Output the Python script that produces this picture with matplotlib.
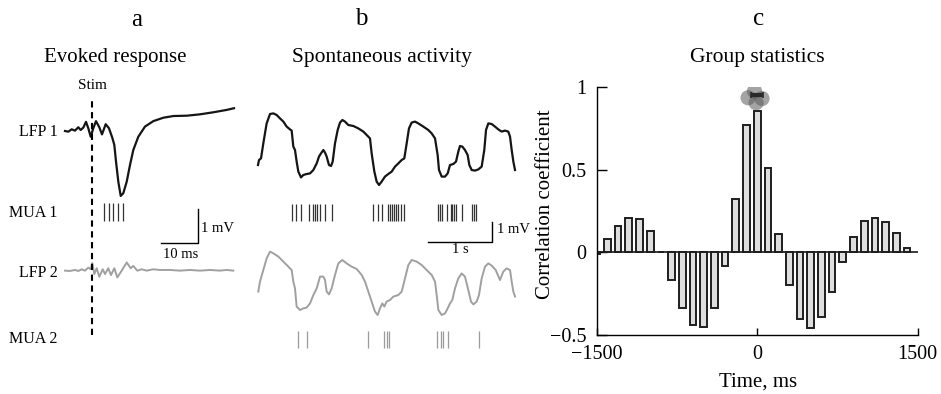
import numpy as np
import matplotlib
matplotlib.use("Agg")
import matplotlib.pyplot as plt

plt.rcParams['font.family'] = ['Liberation Serif', 'DejaVu Serif']

# ---------------- data ----------------
# Panel a: evoked response (time in ms relative to stimulus, voltage in mV)
a_lfp1_t = [-7.38, -6.49, -5.57, -4.68, -3.78, -3.14, -2.43, -1.70, -1.08, -0.43,
            0.27, 1.00, 1.89, 2.62, 3.62, 4.51, 5.41, 5.95, 6.41, 7.03,
            7.68, 8.38, 9.30, 10.19, 11.08, 12.43, 14.24, 16.49, 19.19, 21.89,
            25.51, 29.11, 32.70, 36.32, 38.30]
a_lfp1_v = [0.00, -0.02, 0.05, 0.01, 0.11, 0.03, 0.10, 0.27, 0.08, -0.17,
            0.08, 0.29, 0.11, -0.10, 0.20, 0.08, -0.20, -0.41, -0.90, -1.49,
            -1.91, -1.83, -1.49, -1.00, -0.56, -0.17, 0.13, 0.29, 0.39, 0.44,
            0.45, 0.49, 0.55, 0.62, 0.67]
a_lfp2_t = [-7.38, -6.03, -4.68, -3.78, -2.86, -1.97, -1.08, -0.43, 0.00, 0.54,
            1.19, 1.89, 2.81, 3.43, 4.32, 5.05, 5.95, 6.76, 7.95, 9.30,
            10.38, 11.08, 12.16, 13.35, 14.70, 16.49, 18.30, 21.00, 23.70, 26.41,
            29.11, 31.81, 34.51, 36.32, 38.11]
a_lfp2_v = [-0.01, -0.02, 0.01, -0.02, 0.03, -0.01, 0.08, 0.03, 0.21, -0.11,
            0.06, -0.19, 0.03, -0.11, 0.06, -0.14, 0.06, -0.21, -0.01, 0.23,
            0.06, 0.13, -0.01, 0.03, -0.01, 0.03, 0.01, 0.01, -0.01, 0.01,
            -0.01, 0.01, -0.01, 0.01, -0.01]
a_mua1_t = [3.1, 4.45, 5.7, 6.9, 8.3]

# Panel b: spontaneous activity (time in s, voltage in mV)
b_lfp1_t = [0.000, 0.016, 0.047, 0.083, 0.135, 0.188, 0.240, 0.292, 0.344, 0.396,
            0.448, 0.500, 0.526, 0.552, 0.578, 0.604, 0.630, 0.672, 0.708, 0.760,
            0.813, 0.865, 0.917, 0.953, 0.984, 1.021, 1.047, 1.073, 1.109, 1.141,
            1.167, 1.203, 1.245, 1.281, 1.318, 1.359, 1.411, 1.490, 1.568, 1.646,
            1.698, 1.750, 1.776, 1.818, 1.854, 1.891, 1.932, 1.984, 2.036, 2.089,
            2.141, 2.193, 2.245, 2.286, 2.323, 2.359, 2.401, 2.453, 2.505, 2.583,
            2.661, 2.714, 2.766, 2.807, 2.828, 2.870, 2.922, 2.964, 3.000, 3.052,
            3.094, 3.130, 3.156, 3.193, 3.234, 3.276, 3.302, 3.339, 3.391, 3.443,
            3.495, 3.536, 3.563, 3.599, 3.651, 3.703, 3.755, 3.807, 3.859, 3.911,
            3.938, 3.964, 3.990, 4.016]
b_lfp1_v = [-0.25, 0.00, 0.08, 0.83, 1.83, 2.30, 2.33, 2.25, 2.08, 1.92,
            1.67, 1.53, 1.47, 0.67, 0.50, -0.08, -0.58, -0.87, -0.75, -0.70,
            -0.67, -0.50, -0.17, 0.17, 0.33, 0.50, 0.37, 0.17, -0.25, -0.30,
            -0.08, 0.83, 1.50, 1.87, 2.00, 1.92, 1.75, 1.70, 1.58, 1.42,
            1.25, 1.08, 0.33, -0.58, -1.08, -1.25, -1.08, -0.83, -0.70, -0.58,
            -0.33, -0.17, 0.00, 0.08, 0.83, 1.58, 1.87, 1.92, 1.83, 1.67,
            1.50, 1.33, 1.08, 0.25, -0.50, -0.83, -0.83, -0.67, -0.25, -0.20,
            -0.08, 0.42, 0.70, 0.67, 0.50, 0.25, -0.25, -0.50, -0.53, -0.47,
            -0.33, 0.50, 1.50, 1.83, 1.80, 1.67, 1.53, 1.42, 1.47, 1.42,
            1.17, 0.50, -0.08, -0.50]
b_lfp2_t = [0.005, 0.031, 0.083, 0.135, 0.188, 0.240, 0.318, 0.396, 0.474, 0.500,
            0.526, 0.552, 0.578, 0.604, 0.656, 0.708, 0.760, 0.813, 0.865, 0.917,
            0.969, 1.021, 1.047, 1.073, 1.109, 1.151, 1.203, 1.255, 1.318, 1.385,
            1.464, 1.542, 1.620, 1.672, 1.724, 1.776, 1.828, 1.870, 1.906, 1.943,
            1.974, 2.010, 2.063, 2.115, 2.193, 2.245, 2.297, 2.349, 2.401, 2.479,
            2.557, 2.635, 2.714, 2.766, 2.792, 2.818, 2.870, 2.922, 2.964, 3.000,
            3.036, 3.078, 3.130, 3.182, 3.234, 3.286, 3.328, 3.365, 3.417, 3.453,
            3.495, 3.547, 3.599, 3.651, 3.714, 3.781, 3.833, 3.885, 3.938, 3.964,
            3.990, 4.016]
b_lfp2_v = [0.67, 1.17, 1.75, 2.33, 2.67, 2.58, 2.42, 2.17, 1.92, 1.83,
            1.75, 1.17, 0.83, -0.08, -0.25, -0.17, -0.13, 0.08, 0.50, 0.83,
            1.42, 1.42, 1.25, 0.67, 0.53, 0.83, 1.50, 2.08, 2.25, 2.08,
            1.92, 1.80, 1.50, 1.17, 0.67, 0.17, -0.33, -0.50, -0.17, 0.08,
            -0.08, 0.17, 0.25, 0.42, 0.50, 0.67, 1.33, 2.00, 2.25, 2.17,
            2.00, 1.75, 1.50, 1.17, 0.50, -0.25, -0.50, -0.42, -0.17, 0.08,
            0.25, 0.83, 1.33, 1.58, 1.42, 0.75, 0.17, 0.03, 0.17, 0.50,
            1.33, 1.92, 2.08, 1.97, 1.75, 1.25, 1.67, 1.83, 1.75, 1.17,
            0.67, 0.42]
b_mua1_t = [0.536, 0.599, 0.672, 0.797, 0.865, 0.891, 0.927, 0.964, 1.047, 1.161,
            1.792, 1.870, 1.943, 2.036, 2.063, 2.089, 2.125, 2.156, 2.193, 2.229, 2.286,
            2.818, 2.849, 2.880, 2.948, 3.010, 3.036, 3.063, 3.089, 3.193, 3.339, 3.370, 3.401]
b_mua2_t = [0.620, 0.760, 1.714, 1.969, 2.010, 2.052, 2.802, 2.854, 2.896, 2.974, 3.458]

# Panel c: group statistics (cross-correlation)
c_lag_ms = [-1500, -1400, -1300, -1200, -1100, -1000, -900, -800, -700, -600,
            -500, -400, -300, -200, -100, 0, 100, 200, 300, 400,
            500, 600, 700, 800, 900, 1000, 1100, 1200, 1300, 1400]
c_corr = [-0.01, 0.08, 0.157, 0.207, 0.20, 0.13, 0.0, -0.167, -0.335, -0.44,
          -0.45, -0.335, -0.08, 0.32, 0.77, 0.853, 0.51, 0.108, -0.197, -0.405,
          -0.46, -0.39, -0.237, -0.06, 0.09, 0.187, 0.21, 0.185, 0.114, 0.028]
c_peak_lag = [-25, -85, 45, -10]
c_peak_val = [0.975, 0.935, 0.93, 0.905]
c_peak_mean = 0
c_peak_err = 55
c_peak_y = 0.95

# ---------------- figure ----------------
W, H = 941, 394
fig = plt.figure(figsize=(W / 100, H / 100), dpi=100)


def ftext(x, y, s, **kw):
    fig.text(x / W, 1 - y / H, s, **kw)


def add_ax(x0, y0, x1, y1):
    return fig.add_axes([x0 / W, 1 - y1 / H, (x1 - x0) / W, (y1 - y0) / H])


# ---- Panel a ----
axa = add_ax(60, 60, 240, 394)
axa.set_xlim(-8.73, 39.92)
axa.set_ylim(-7.735, 2.088)
axa.axis('off')
lfp2_off_a = -4.097
axa.plot(a_lfp1_t, a_lfp1_v, color='#151515', lw=1.6, solid_joinstyle='round')
axa.plot(a_lfp2_t, np.array(a_lfp2_v) + lfp2_off_a, color='#a0a0a0', lw=1.4)
axa.vlines(a_mua1_t, -2.65, -2.13, color='#333333', lw=0.9)
axa.plot([0, 0], [-6.0, 0.912], color='black', lw=1.5, ls=(0, (3, 2.2)))
# scale bar 10 ms / 1 mV
axa.plot([18.65, 28.65, 28.65], [-3.285, -3.285, -2.285], color='black', lw=1.0)

ftext(137, 26.5, 'a', fontsize=18, ha='center', va='baseline')
ftext(115, 61.7, 'Evoked response', fontsize=15, ha='center', va='baseline')
ftext(92.3, 89.3, 'Stim', fontsize=11, ha='center', va='baseline')
for lab, yb in [('LFP 1', 136), ('MUA 1', 217.3), ('LFP 2', 276.7), ('MUA 2', 343.3)]:
    ftext(57.5, yb, lab, fontsize=11.5, ha='right', va='baseline')
ftext(201, 232.3, '1 mV', fontsize=10.5, ha='left', va='baseline')
ftext(163.3, 258.3, '10 ms', fontsize=10.5, ha='left', va='baseline')

# ---- Panel b ----
axb = add_ax(250, 60, 525, 394)
axb.set_xlim(-0.125, 4.172)
axb.set_ylim(-11.7, 5.0)
axb.axis('off')
lfp2_off_b = -7.25
axb.plot(b_lfp1_t, b_lfp1_v, color='#151515', lw=1.6)
axb.plot(b_lfp2_t, np.array(b_lfp2_v) + lfp2_off_b, color='#a0a0a0', lw=1.4)
axb.vlines(b_mua1_t, -3.035, -2.2, color='#333333', lw=0.9)
axb.vlines(b_mua2_t, -9.4, -8.55, color='#9a9a9a', lw=0.9)
axb.plot([2.66, 3.66, 3.66], [-4.085, -4.085, -3.085], color='black', lw=1.0)

ftext(361, 25, 'b', fontsize=18, ha='center', va='baseline')
ftext(382, 61.7, 'Spontaneous activity', fontsize=15.5, ha='center', va='baseline')
ftext(496.7, 233.3, '1 mV', fontsize=10.5, ha='left', va='baseline')
ftext(460, 253.3, '1 s', fontsize=10.5, ha='center', va='baseline')

# ---- Panel c ----
axc = add_ax(596.7, 87, 917.7, 335)
axc.set_xlim(-1500, 1500)
axc.set_ylim(-0.5, 1.0)
axc.axhline(0, color='#1a1a1a', lw=1.2, zorder=1)
axc.bar(c_lag_ms, c_corr, width=62, color='#dedede', edgecolor='#1e1e1e',
        linewidth=1.4, zorder=2)
axc.scatter(c_peak_lag, c_peak_val, s=120, color='#5a5a5a', alpha=0.55,
            edgecolors='none', zorder=3)
axc.errorbar([c_peak_mean], [c_peak_y], xerr=[c_peak_err], color='#2a2a2a',
             lw=3, capsize=2.5, capthick=1.2, zorder=4)
for s in ['top', 'right']:
    axc.spines[s].set_visible(False)
for s in ['left', 'bottom']:
    axc.spines[s].set_linewidth(1.0)
axc.set_yticks([-0.5, 0, 0.5, 1])
axc.set_yticklabels(['\u22120.5', '0', '0.5', '1'])
axc.set_xticks([-1500, 0, 1500])
axc.set_xticklabels(['\u22121500', '0', '1500'])
axc.tick_params(axis='y', direction='in', length=7, width=1.0, pad=7.5, labelsize=14.5)
axc.tick_params(axis='x', direction='in', length=5, width=1.0, pad=7, labelsize=14.5)

ftext(758.3, 25, 'c', fontsize=18, ha='center', va='baseline')
ftext(757.7, 61.7, 'Group statistics', fontsize=15.5, ha='center', va='baseline')
ftext(545, 204, 'Correlation coefficient', fontsize=15, ha='center', va='center',
      rotation=90)
ftext(758, 386.7, 'Time, ms', fontsize=15, ha='center', va='baseline')

fig.savefig('out.png', dpi=100)
